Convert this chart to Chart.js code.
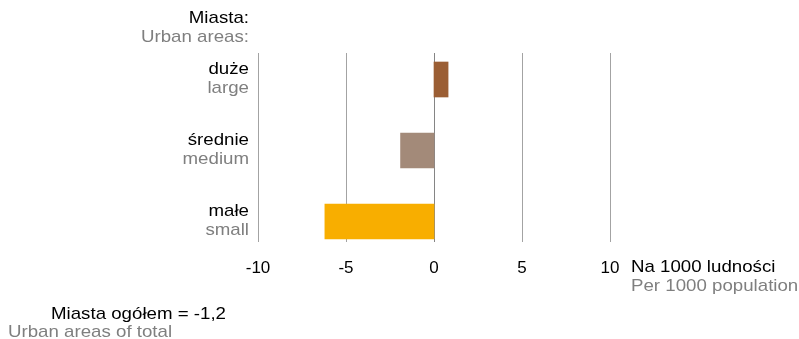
<!DOCTYPE html>
<html>
<head>
<meta charset="utf-8">
<script src="https://cdn.jsdelivr.net/npm/chart.js@4"></script>
<style>
    html,body{
        margin:0;
        padding:0;
        background:#ffffff;
    }
    #wrap{
        width:799px;
        height:339px;
    }
</style>
</head>
<body>
<div id="wrap">
    <canvas id="barChart" width="799" height="339"></canvas>
</div>
<script>

// data
const categoriesPl = ["duże","średnie","małe"];
const categoriesEn = ["large","medium","small"];
const values = [0.8,-1.9,-6.2];
const tickValues = [-10,-5,0,5,10];

const titlePl = "Miasta:";
const titleEn = "Urban areas:";
const unitPl = "Na 1000 ludności";
const unitEn = "Per 1000 population";
const totalPl = "Miasta ogółem = -1,2";
const totalEn = "Urban areas of total";

const barColors = ["#9b5e34","#a38a79","#f8ae00"];

const FONT = "16.4px 'Liberation Sans', Arial, sans-serif";
const BLACK = "#000000";
const GREY = "#7f7f7f";
const STRETCH = 1.14;

function drawText(ctx,text,x,y,align,color){

    ctx.save();
    ctx.font = FONT;
    ctx.fillStyle = color;
    ctx.textAlign = align;
    ctx.textBaseline = "middle";
    ctx.translate(x,y);
    ctx.scale(STRETCH,1);
    ctx.fillText(text,0,0);
    ctx.restore();
}

// vertical grid lines at the x ticks, a bit shorter than the plot area
const gridPlugin = {
    id:"shortGrid",
    beforeDatasetsDraw(chart){

        const ctx = chart.ctx;
        const xScale = chart.scales.x;
        const area = chart.chartArea;

        ctx.save();
        ctx.lineWidth = 1;

        tickValues.forEach(v=>{

            const px = Math.round(
                xScale.getPixelForValue(v)
            ) + 0.5;

            ctx.strokeStyle = v === 0 ? "#858585" : "#a3a3a3";
            ctx.beginPath();
            ctx.moveTo(px,area.top + 9);
            ctx.lineTo(px,area.bottom - 15);
            ctx.stroke();
        });

        ctx.restore();
    }
};

// two-line labels: polish in black, english in grey
const labelPlugin = {
    id:"twoLineLabels",
    afterDraw(chart){

        const ctx = chart.ctx;
        const yScale = chart.scales.y;
        const xScale = chart.scales.x;
        const area = chart.chartArea;
        const lx = area.left - 9;

        categoriesPl.forEach((cat,i)=>{

            const cy = yScale.getPixelForValue(i);

            drawText(ctx,cat,lx,cy - 10,"right",BLACK);
            drawText(ctx,categoriesEn[i],lx,cy + 9,"right",GREY);
        });

        drawText(ctx,titlePl,lx,18,"right",BLACK);
        drawText(ctx,titleEn,lx,37,"right",GREY);

        const ux = xScale.getPixelForValue(10) + 21;

        drawText(ctx,unitPl,ux,267,"left",BLACK);
        drawText(ctx,unitEn,ux,286,"left",GREY);

        drawText(ctx,totalPl,51,314,"left",BLACK);
        drawText(ctx,totalEn,8,332,"left",GREY);
    }
};

new Chart(
document.getElementById(
"barChart"
),
{
    type:"bar",
    data:{
        labels:categoriesPl,
        datasets:[{
            data:values,
            backgroundColor:barColors,
            borderWidth:0,
            barThickness:35
        }]
    },
    options:{
        indexAxis:"y",
        responsive:false,
        animation:false,
        events:[],
        layout:{
            padding:{
                left:258,
                right:189,
                top:44,
                bottom:0
            }
        },
        plugins:{
            legend:{display:false},
            tooltip:{enabled:false}
        },
        scales:{
            x:{
                min:-10,
                max:10,
                afterBuildTicks(scale){
                    scale.ticks = tickValues.map(v=>({value:v}));
                },
                afterFit(scale){
                    scale.height = 82;
                },
                grid:{
                    display:false,
                    drawTicks:false
                },
                border:{display:false},
                ticks:{
                    padding:1,
                    color:BLACK,
                    maxRotation:0,
                    font:{
                        family:"'Liberation Sans', Arial, sans-serif",
                        size:17
                    }
                }
            },
            y:{
                display:false
            }
        }
    },
    plugins:[gridPlugin,labelPlugin]
});

</script>
</body>
</html>
